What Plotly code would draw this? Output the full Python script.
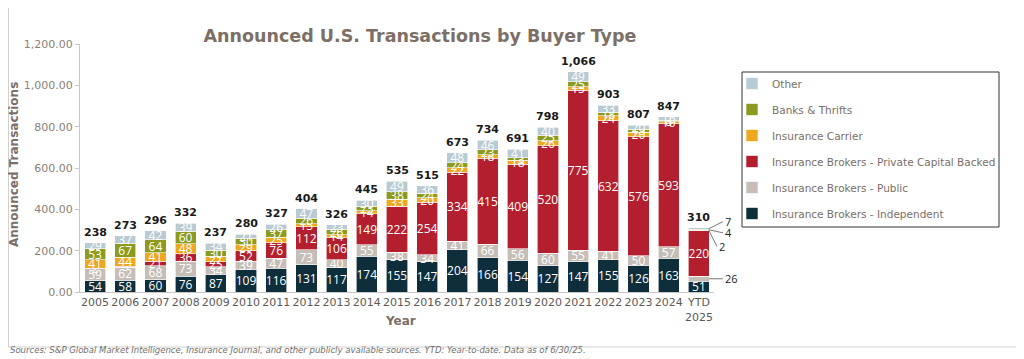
import plotly.graph_objects as go

years = ["2005", "2006", "2007", "2008", "2009", "2010", "2011", "2012", "2013", "2014",
         "2015", "2016", "2017", "2018", "2019", "2020", "2021", "2022", "2023", "2024", "YTD 2025"]
tick_labels = ["2005", "2006", "2007", "2008", "2009", "2010", "2011", "2012", "2013", "2014",
               "2015", "2016", "2017", "2018", "2019", "2020", "2021", "2022", "2023", "2024", "YTD<br>2025"]

independent = [54, 58, 60, 76, 87, 109, 116, 131, 117, 174, 155, 147, 204, 166, 154, 127, 147, 155, 126, 163, 51]
public = [59, 62, 68, 73, 34, 39, 47, 73, 40, 55, 38, 34, 41, 66, 56, 60, 55, 41, 50, 57, 26]
private_capital = [2, 5, 21, 36, 25, 52, 76, 112, 106, 149, 222, 254, 334, 415, 409, 520, 775, 632, 576, 593, 220]
carrier = [41, 44, 41, 48, 27, 29, 25, 15, 14, 14, 33, 20, 22, 18, 18, 26, 15, 24, 20, 10, 2]
banks = [53, 67, 64, 60, 30, 30, 37, 26, 26, 23, 38, 24, 24, 23, 13, 25, 25, 18, 15, 8, 4]
other = [29, 37, 42, 39, 34, 21, 26, 47, 23, 30, 49, 36, 48, 46, 41, 40, 49, 33, 20, 16, 7]
totals = [238, 273, 296, 332, 237, 280, 327, 404, 326, 445, 535, 515, 673, 734, 691, 798, 1066, 903, 807, 847, 310]

series = [
    ("Insurance Brokers - Independent", independent, "#0e2e3c"),
    ("Insurance Brokers - Public", public, "#c5bdb6"),
    ("Insurance Brokers - Private Capital Backed", private_capital, "#b31f2e"),
    ("Insurance Carrier", carrier, "#eea81d"),
    ("Banks & Thrifts", banks, "#8c9a1f"),
    ("Other", other, "#b8cad2"),
]

# geometry (figure is offset by the page's 8px body margin)
OFF = 8
W, H = 1016, 351
L, T, B = 72, 36, 67
R = W - 706
PW, PH = W - L - R, H - T - B
def px(xr):
    return (xr - OFF - L) / PW
def py(yr):
    return (H - B - (yr - OFF)) / PH

fig = go.Figure()
n = len(series)
for i, (name, vals, col) in enumerate(series):
    texts = [str(v) for v in vals]
    if name not in ("Insurance Brokers - Independent", "Insurance Brokers - Private Capital Backed"):
        texts[-1] = ""
    fig.add_trace(go.Bar(
        name=name, x=years, y=vals, marker=dict(color=col, line=dict(color="white", width=0.6)),
        text=texts, textposition="inside", insidetextanchor="middle", constraintext="none",
        textfont=dict(family="Open Sans", size=12, color="white"),
        textangle=0, cliponaxis=False, hoverinfo="skip", legendgroup=name, legendrank=n - i,
    ))

annotations = []
for i, t in enumerate(totals):
    annotations.append(dict(x=i, y=t, text=f"<b>{t:,}</b>", showarrow=False, yanchor="bottom", yshift=2,
                            font=dict(family="DejaVu Sans", size=11, color="#1a1a1a")))

# YTD 2025 callouts for small segments
ytd_vals = [independent[-1], public[-1], private_capital[-1], carrier[-1], banks[-1], other[-1]]
cum = []
s = 0
for v in ytd_vals:
    cum.append(s + v / 2)
    s += v
last = len(years) - 1
callouts = [(1, 26, 14, 0), (3, 2, 8, 16), (4, 4, 14, 3), (5, 7, 14, -7)]
for idx, val, axo, ayo in callouts:
    annotations.append(dict(x=last, y=cum[idx], xshift=10, text=str(val), showarrow=True, arrowhead=0,
                            arrowwidth=0.8, arrowcolor="#555", ax=axo, ay=ayo, xanchor="left",
                            font=dict(family="Open Sans", size=11, color="#222")))

annotations.append(dict(xref="paper", yref="paper", x=px(400), y=py(330), text="<b>Year</b>", showarrow=False,
                        font=dict(family="DejaVu Sans", size=12, color="#7a6e66")))
annotations.append(dict(xref="paper", yref="paper", x=px(14), y=py(165), xanchor="center", yanchor="middle",
                        text="<b>Announced Transactions</b>",
                        textangle=-90, showarrow=False, font=dict(family="DejaVu Sans", size=12, color="#7a6e66")))
annotations.append(dict(xref="paper", yref="paper", x=px(8), y=py(350), xanchor="left", yanchor="middle",
                        text="<i>Sources: S&P Global Market Intelligence, Insurance Journal, and other publicly available sources. YTD: Year-to-date. Data as of 6/30/25.</i>",
                        showarrow=False, font=dict(family="DejaVu Sans", size=8.5, color="#6e6e6e")))

fig.update_layout(
    width=W, height=H, barmode="stack", bargap=0.30,
    margin=dict(l=L, r=R, t=T, b=B, autoexpand=False),
    paper_bgcolor="white", plot_bgcolor="white",
    title=dict(text="<b>Announced U.S. Transactions by Buyer Type</b>", x=(420 - OFF) / W, xanchor="center",
               y=1 - (36 - OFF) / H, yanchor="middle", font=dict(family="DejaVu Sans", size=17.5, color="#7b6f66")),
    xaxis=dict(type="category", categoryorder="array", categoryarray=years, range=[-0.5, len(years) - 0.5],
               tickmode="array", tickvals=years, ticktext=tick_labels, showline=True, linecolor="#c8c8c8",
               linewidth=1, ticks="", tickfont=dict(family="DejaVu Sans", size=11, color="#5e5955"),
               fixedrange=True),
    yaxis=dict(range=[0, 1200], dtick=200, tickformat=",.2f", showgrid=False, zeroline=False, showline=True,
               linecolor="#c8c8c8", ticks="outside", ticklen=4, tickcolor="#c8c8c8",
               tickfont=dict(family="DejaVu Sans", size=11, color="#8a7f78")),
    legend=dict(x=px(732), y=py(69), xanchor="left", yanchor="top", traceorder="grouped",
                borderwidth=0, bgcolor="rgba(0,0,0,0)", tracegroupgap=7, itemwidth=30,
                font=dict(family="DejaVu Sans", size=10.5, color="#7a6e66")),
    annotations=annotations,
    shapes=[
        dict(type="rect", xref="paper", yref="paper", x0=px(742), x1=px(999), y0=py(227), y1=py(72),
             line=dict(color="#333", width=1), fillcolor="white", layer="below"),
        dict(type="rect", xref="paper", yref="paper", x0=px(8.5), x1=px(1018), y0=py(347), y1=py(7),
             line=dict(color="#cfcfcf", width=1), fillcolor="rgba(0,0,0,0)", layer="below"),
    ],
)

fig.write_html("out.html")
